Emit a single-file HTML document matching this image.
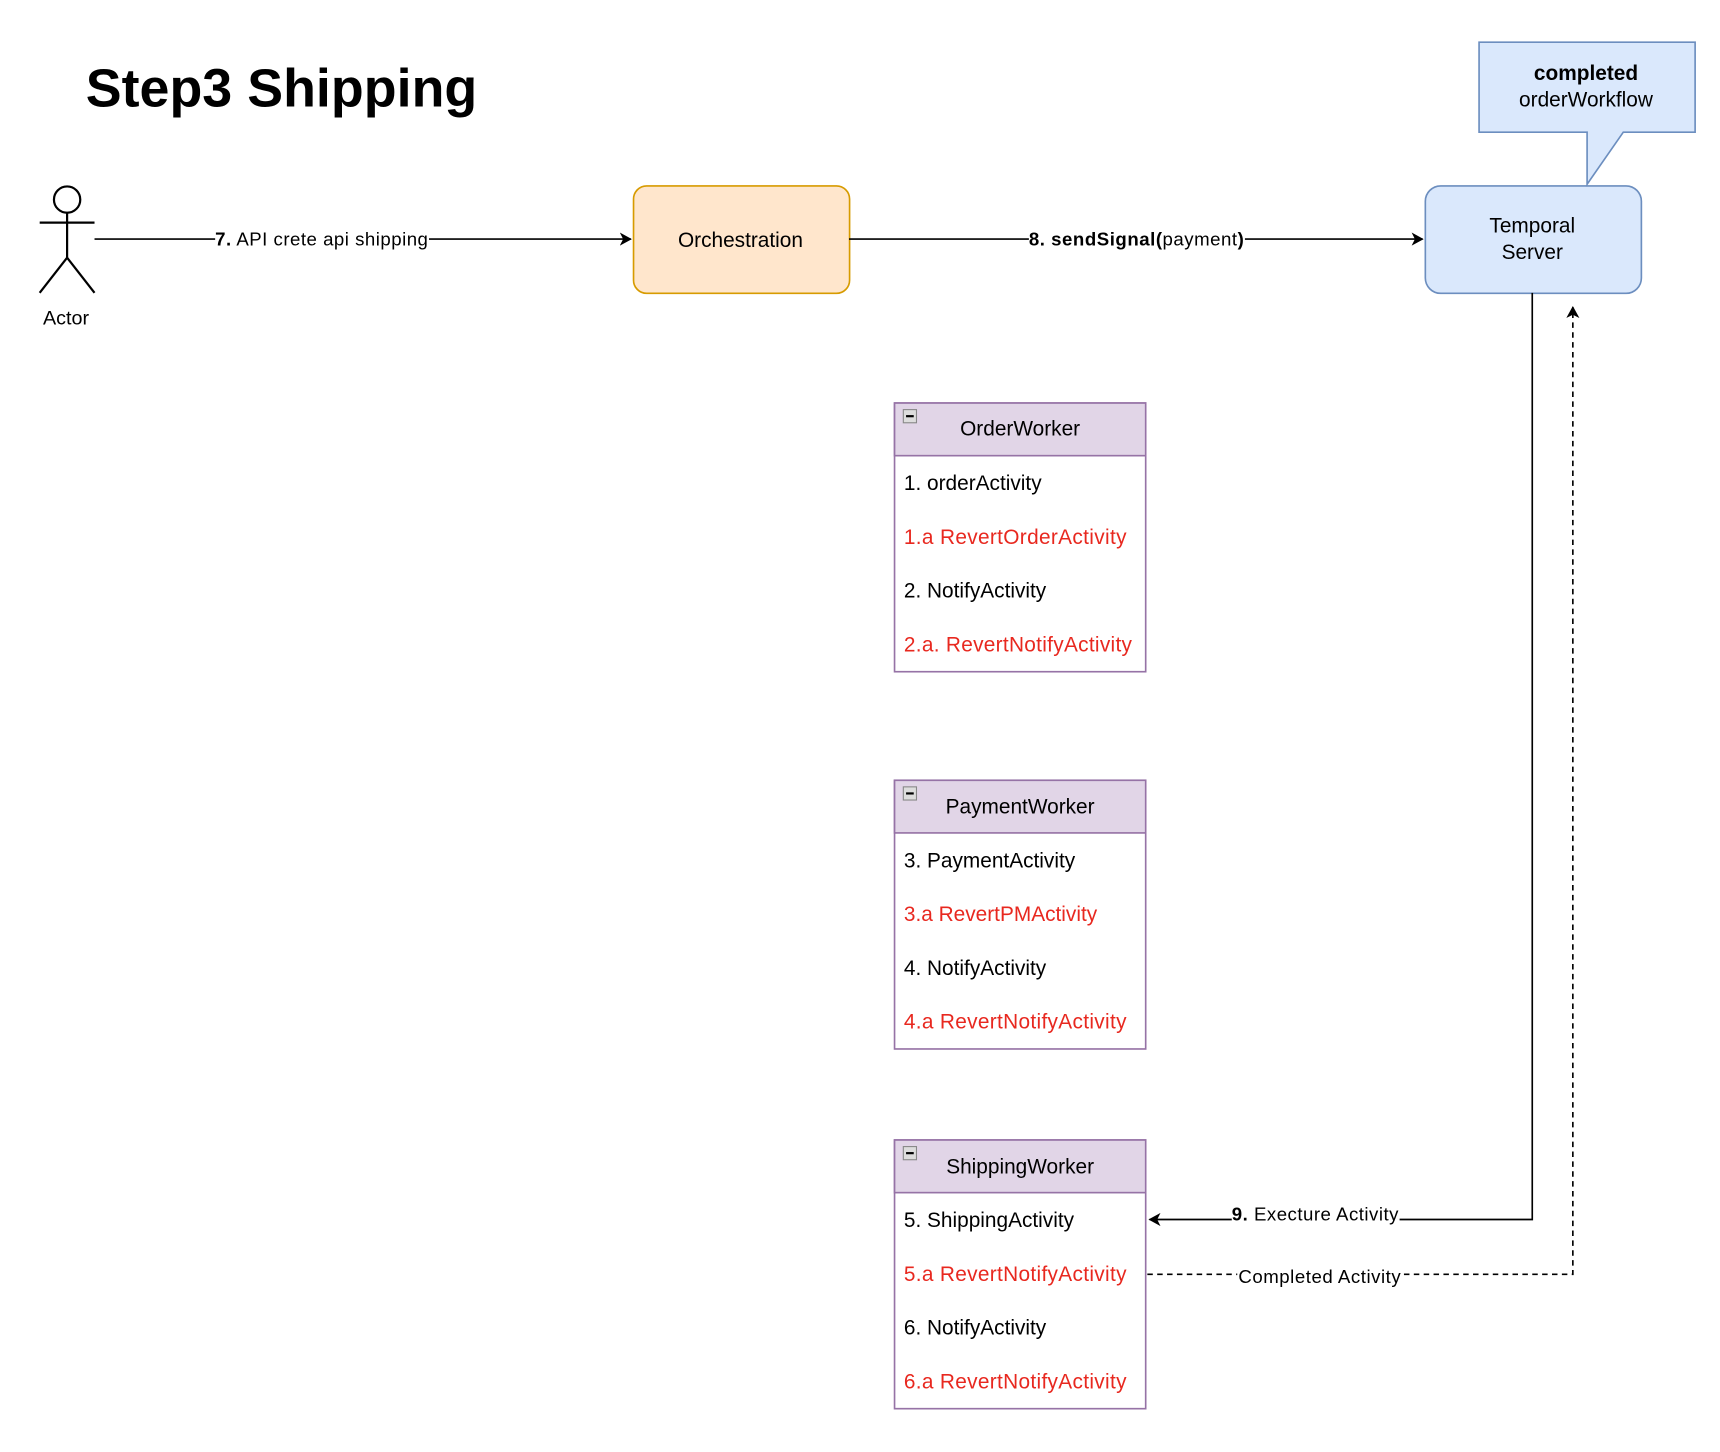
<!DOCTYPE html>
<html><head><meta charset="utf-8"><style>
html,body{margin:0;padding:0;background:#fff;}
svg{display:block;font-family:"Liberation Sans",Arial,sans-serif;}
</style></head><body>
<svg width="1720" height="1452" viewBox="0 0 1568 1324" xmlns="http://www.w3.org/2000/svg">
<defs>
<marker id="ar" markerWidth="12" markerHeight="12" refX="10" refY="6" orient="auto" markerUnits="userSpaceOnUse">
<path d="M0,0 L11,6 L0,12 L3,6 Z" fill="#000"/></marker>
</defs>
<rect width="1568" height="1324" fill="#fff"/>
<text x="78" y="97" font-size="49" font-weight="bold" textLength="357">Step3 Shipping</text>

<g stroke="#000" stroke-width="2" fill="none">
<circle cx="61" cy="182" r="12" fill="#fff"/>
<line x1="61" y1="194" x2="61" y2="235"/>
<line x1="36" y1="203" x2="86" y2="203"/>
<line x1="61" y1="235" x2="36" y2="267"/>
<line x1="61" y1="235" x2="86" y2="267"/>
</g>
<text x="60" y="296" font-size="18" text-anchor="middle">Actor</text>

<line x1="86" y1="218" x2="575" y2="218" stroke="#000" stroke-width="1.5" marker-end="url(#ar)"/>
<rect x="196" y="207" width="195" height="22" fill="#fff"/>
<text x="293" y="224" font-size="17" text-anchor="middle" textLength="194"><tspan font-weight="bold">7.</tspan> API crete api shipping</text>

<rect x="577.5" y="169.5" width="197" height="98" rx="12" fill="#ffe6cc" stroke="#d79b00" stroke-width="1.5"/>
<text x="675" y="225" font-size="19" text-anchor="middle">Orchestration</text>

<line x1="774" y1="218" x2="1297" y2="218" stroke="#000" stroke-width="1.5" marker-end="url(#ar)"/>
<rect x="938" y="207" width="197" height="22" fill="#fff"/>
<text x="1036" y="224" font-size="17" text-anchor="middle" textLength="196"><tspan font-weight="bold">8. sendSignal(</tspan>payment<tspan font-weight="bold">)</tspan></text>

<rect x="1299.5" y="169.5" width="197" height="98" rx="14" fill="#dae8fc" stroke="#6c8ebf" stroke-width="1.5"/>
<text x="1397" y="212" font-size="19" text-anchor="middle">Temporal</text>
<text x="1397" y="236" font-size="19" text-anchor="middle">Server</text>

<path d="M1348.5,38.5 H1545.5 V120.5 H1480 L1447,168 V120.5 H1348.5 Z" fill="#dae8fc" stroke="#6c8ebf" stroke-width="1.5"/>
<text x="1446" y="73" font-size="19" font-weight="bold" text-anchor="middle">completed</text>
<text x="1446" y="97" font-size="19" text-anchor="middle">orderWorkflow</text>

<polyline points="1397,267 1397,1112 1048,1112" fill="none" stroke="#000" stroke-width="1.5" marker-end="url(#ar)"/>
<rect x="1123" y="1097" width="153" height="20" fill="#fff"/>
<text x="1199" y="1113" font-size="17" text-anchor="middle" textLength="152"><tspan font-weight="bold">9.</tspan> Execture Activity</text>

<polyline points="1046,1162 1434,1162 1434,280" fill="none" stroke="#000" stroke-width="1.5" stroke-dasharray="5,4" marker-end="url(#ar)"/>
<rect x="1128" y="1152" width="150" height="22" fill="#fff"/>
<text x="1203" y="1170" font-size="17" text-anchor="middle" textLength="148">Completed Activity</text>

<g font-size="19">
<g transform="translate(0,367)">
<rect x="815.5" y="0.5" width="229" height="245" fill="#fff" stroke="#9673a6" stroke-width="1.5"/>
<rect x="815.5" y="0.5" width="229" height="48" fill="#e1d5e7" stroke="#9673a6" stroke-width="1.5"/>
<rect x="823.5" y="6.5" width="12" height="12" fill="#ddd" stroke="#888"/><line x1="826" y1="12.5" x2="833" y2="12.5" stroke="#000" stroke-width="2"/>
<text x="930" y="30" text-anchor="middle">OrderWorker</text>
<text x="824" y="80">1. orderActivity</text>
<text x="824" y="129" fill="#e8281f" textLength="203">1.a RevertOrderActivity</text>
<text x="824" y="178">2. NotifyActivity</text>
<text x="824" y="227" fill="#e8281f" textLength="208">2.a. RevertNotifyActivity</text>
</g>
<g transform="translate(0,711)">
<rect x="815.5" y="0.5" width="229" height="245" fill="#fff" stroke="#9673a6" stroke-width="1.5"/>
<rect x="815.5" y="0.5" width="229" height="48" fill="#e1d5e7" stroke="#9673a6" stroke-width="1.5"/>
<rect x="823.5" y="6.5" width="12" height="12" fill="#ddd" stroke="#888"/><line x1="826" y1="12.5" x2="833" y2="12.5" stroke="#000" stroke-width="2"/>
<text x="930" y="31" text-anchor="middle">PaymentWorker</text>
<text x="824" y="80">3. PaymentActivity</text>
<text x="824" y="129" fill="#e8281f">3.a RevertPMActivity</text>
<text x="824" y="178">4. NotifyActivity</text>
<text x="824" y="227" fill="#e8281f" textLength="203">4.a RevertNotifyActivity</text>
</g>
<g transform="translate(0,1039)">
<rect x="815.5" y="0.5" width="229" height="245" fill="#fff" stroke="#9673a6" stroke-width="1.5"/>
<rect x="815.5" y="0.5" width="229" height="48" fill="#e1d5e7" stroke="#9673a6" stroke-width="1.5"/>
<rect x="823.5" y="6.5" width="12" height="12" fill="#ddd" stroke="#888"/><line x1="826" y1="12.5" x2="833" y2="12.5" stroke="#000" stroke-width="2"/>
<text x="930" y="31" text-anchor="middle">ShippingWorker</text>
<text x="824" y="80">5. ShippingActivity</text>
<text x="824" y="129" fill="#e8281f" textLength="203">5.a RevertNotifyActivity</text>
<text x="824" y="178">6. NotifyActivity</text>
<text x="824" y="227" fill="#e8281f" textLength="203">6.a RevertNotifyActivity</text>
</g>
</g>
</svg>
</body></html>
